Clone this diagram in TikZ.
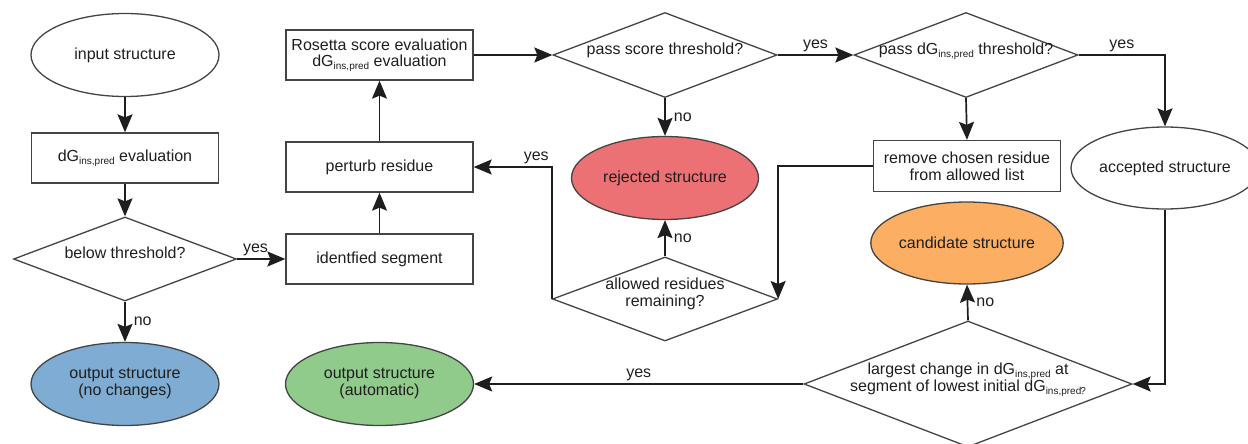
\documentclass[tikz,border=0pt]{standalone}
\usepackage{fontspec}
\setmainfont{Liberation Sans}
\usetikzlibrary{shapes.geometric,arrows.meta}
\definecolor{linec}{HTML}{1E1E1E}
\definecolor{borderc}{HTML}{444444}
\definecolor{bluef}{HTML}{7FACD3}
\definecolor{redf}{HTML}{EC7174}
\definecolor{greenf}{HTML}{90CB8C}
\definecolor{orangef}{HTML}{FCAE62}
\newcommand{\ipsub}[1]{\raisebox{-0.35ex}{\fontsize{10}{10}\selectfont #1}}
\newcommand{\dGip}{dG\ipsub{ins,pred}}
\newcommand{\ctr}[1]{\smash{\makebox[0pt]{\begin{tabular}{@{}c@{}}#1\end{tabular}}}}
\tikzset{
  every node/.style={font=\fontsize{16}{17}\selectfont, text=linec},
  ell/.style={ellipse, draw=borderc, line width=1.3pt, minimum width=188pt, minimum height=83pt, inner sep=0pt},
  boxn/.style={rectangle, draw=borderc, line width=1.3pt, minimum width=187pt, minimum height=50pt, inner sep=0pt, align=center},
  dia/.style={diamond, draw=borderc, line width=1.3pt, inner sep=0pt},
  conn/.style={draw=linec, line width=1.7pt, -{Stealth[length=18pt,width=15pt,inset=3pt]}},
  lbl/.style={inner sep=2pt, text=linec},
  rlbl/.style={lbl, right, xshift=6pt},
}
\begin{document}
\begin{tikzpicture}[x=1pt,y=-1pt]
\useasboundingbox (0,0) rectangle (1248,444);
% nodes
\node[ell] (in) at (125,55) {input structure};
\node[boxn] (ev) at (125,158) {\dGip{} evaluation};
\node[dia, minimum width=223pt, minimum height=84pt] (below) at (125,259) {\ctr{below threshold?}};
\node[ell, fill=bluef] (outnc) at (125,384) {\begin{tabular}{@{}c@{}}output structure\\(no changes)\end{tabular}};
\node[boxn] (ros) at (379.5,55) {Rosetta score evaluation\\[-1pt]\dGip{} evaluation};
\node[boxn] (pert) at (379.5,167) {perturb residue};
\node[boxn] (seg) at (379.5,259) {identfied segment};
\node[ell, fill=greenf] (outauto) at (379.5,384) {\begin{tabular}{@{}c@{}}output structure\\(automatic)\end{tabular}};
\node[dia, minimum width=224pt, minimum height=85pt] (pscore) at (665,55) {\ctr{pass score threshold?}};
\node[dia, minimum width=224pt, minimum height=85pt] (pdg) at (966,55) {\ctr{pass \dGip{} threshold?}};
\node[ell, minimum width=187pt, fill=redf] (rej) at (665,178) {rejected structure};
\node[dia, minimum width=225pt, minimum height=84pt] (allowed) at (665,299) {\ctr{allowed residues\\remaining?}};
\node[boxn, minimum height=51pt] (remove) at (967,166) {remove chosen residue\\from allowed list};
\node[ell, minimum width=187pt, minimum height=82pt, fill=orangef] (cand) at (967,243) {candidate structure};
\node[ell, minimum height=82pt] (acc) at (1165,168) {accepted structure};
\node[dia, minimum width=328pt, minimum height=126pt] (large) at (968,384) {\ctr{largest change in \dGip{} at\\segment of lowest initial \dGip{}\kern-1pt\ipsub{?}}};
% connectors
\draw[conn] (in.south) -- (ev.north);
\draw[conn] (ev.south) -- (below.north);
\draw[conn] (below.south) -- node[rlbl] (l1) {no} (outnc.north);
\draw[conn] (below.east) -- node[lbl, above, pos=0.38] (l2) {yes} (seg.west);
\draw[conn] (seg.north) -- (pert.south);
\draw[conn] (pert.north) -- (ros.south);
\draw[conn] (ros.east) -- (pscore.west);
\draw[conn] (pscore.east) -- node[lbl, above] (l3) {yes} (pdg.west);
\draw[conn] (pdg.east) -| node[lbl, above, pos=0.25] (l4) {yes} (acc.north);
\draw[conn] (pscore.south) -- node[rlbl] (l5) {no} (rej.north);
\draw[conn] (pdg.south) -- (remove.north);
\draw[conn] (remove.west) -| (allowed.east);
\draw[conn] (allowed.north) -- node[rlbl] (l6) {no} (rej.south);
\draw[conn] (allowed.west) |- node[lbl, above, pos=0.6] (l7) {yes} (pert.east);
\draw[conn] (acc.south) |- (large.east);
\draw[conn] (large.north) -- node[rlbl] (l8) {no} (cand.south);
\draw[conn] (large.west) -- node[lbl, above] (l9) {yes} (outauto.east);
\end{tikzpicture}
\end{document}
